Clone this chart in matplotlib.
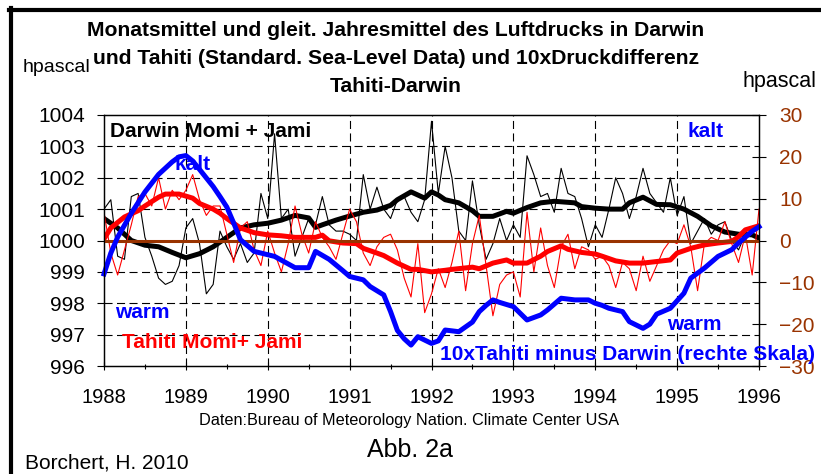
import numpy as np
import matplotlib.pyplot as plt
from matplotlib.lines import Line2D

plt.rcParams['font.family'] = ['Liberation Sans', 'DejaVu Sans']
plt.rcParams['lines.scale_dashes'] = False

# Monatsmittel (Jan 1988 .. Jan 1996), hPa
darwin_monthly = [1001.0, 1001.3, 999.5, 999.4, 1001.4, 1001.5, 1000.1, 999.5, 998.8, 998.6,
                  998.7, 999.2, 1000.4, 1000.7, 999.9, 998.3, 998.6, 1000.3, 999.8, 999.4,
                  999.9, 999.3, 999.6, 1001.5, 1000.7, 1003.4, 1000.7, 1001.0, 999.5, 1000.1,
                  1000.7, 1000.5, 1001.4, 1000.5, 1000.3, 1000.3, 1000.2, 1000.0, 1002.1, 1001.0,
                  1001.7, 1001.0, 1000.7, 1001.3, 1001.4, 1000.9, 1000.6, 1001.3, 1003.8, 1001.5,
                  1003.0, 1002.0, 1000.3, 1000.0, 1001.9, 1000.5, 999.4, 999.9, 1000.7, 1000.0,
                  1000.5, 1000.1, 1002.7, 1002.1, 1001.4, 1001.5, 1000.9, 1002.3, 1001.5, 1001.4,
                  1000.7, 999.8, 1000.5, 1000.1, 1001.0, 1002.0, 1001.5, 1000.7, 1001.4, 1002.3,
                  1001.5, 1001.2, 1000.9, 1002.0, 1000.8, 1001.4, 999.9, 1000.3, 1000.7, 1000.2,
                  1000.5, 1000.6, 1000.0, 999.7, 1000.2, 1000.2, 1000.1]
tahiti_monthly = [1000.9, 999.6, 998.9, 999.7, 1000.5, 1001.4, 1001.5, 1001.1, 1002.0, 1001.0,
                  1001.6, 1001.3, 1001.6, 1002.1, 1001.3, 1000.8, 1001.1, 1001.1, 1000.2, 999.3,
                  1000.4, 1000.6, 999.7, 999.2, 1000.3, 999.6, 999.0, 999.9, 1001.1, 1000.2,
                  999.6, 1000.6, 1000.1, 999.8, 999.4, 1000.2, 1001.0, 1000.6, 999.6, 999.2,
                  999.8, 1000.1, 1000.2, 999.7, 998.8, 998.2, 999.9, 997.7, 998.3, 999.1,
                  998.5, 999.3, 1000.3, 998.4, 999.9, 1000.8, 999.2, 997.6, 998.6, 998.9,
                  999.0, 998.2, 1000.9, 999.0, 1000.4, 999.2, 998.5, 999.8, 1000.2, 999.1,
                  999.8, 999.7, 999.4, 999.5, 999.2, 998.5, 999.3, 999.1, 998.4, 999.5,
                  998.7, 999.2, 999.7, 1000.0, 999.9, 1000.5, 999.8, 998.4, 999.9, 1000.1,
                  1000.0, 1000.6, 999.9, 999.3, 1000.2, 998.9, 1001.0]

# gleitende Jahresmittel (Monat seit Jan 1988)
darwin_mean_month = [0, 2, 4, 6, 8, 10, 12, 14, 16, 18, 20, 22, 24, 26, 28, 30, 31, 32, 34, 36,
                     38, 40, 42, 43, 45, 47, 48, 49, 50, 52, 54, 55, 57, 59, 60, 62, 64, 66, 69, 70,
                     72, 74, 76, 77, 79, 81, 83, 85, 87, 89, 91, 93, 95, 96]
darwin_mean = [1000.70, 1000.40, 1000.00, 999.85, 999.80, 999.62, 999.45, 999.58, 999.80, 1000.10,
               1000.40, 1000.50, 1000.55, 1000.65, 1000.80, 1000.72, 1000.42, 1000.50, 1000.65, 1000.78,
               1000.90, 1000.97, 1001.12, 1001.30, 1001.55, 1001.35, 1001.55, 1001.45, 1001.30, 1001.20,
               1000.95, 1000.77, 1000.77, 1000.93, 1000.87, 1001.05, 1001.20, 1001.25, 1001.20, 1001.08,
               1001.03, 1001.00, 1001.00, 1001.20, 1001.38, 1001.15, 1001.14, 1001.00, 1000.77, 1000.47,
               1000.27, 1000.20, 1000.18, 1000.08]
tahiti_mean_month = [0, 1, 3, 5, 6, 8, 9, 11, 13, 14, 16, 17, 18, 20, 22, 24, 26, 28, 31, 32,
                     33, 35, 37, 38, 40, 41, 43, 45, 46, 48, 50, 51, 54, 55, 57, 59, 60, 62, 64, 65,
                     67, 68, 70, 72, 73, 75, 77, 79, 81, 83, 84, 86, 88, 90, 92, 93, 94, 96]
tahiti_mean = [1000.05, 1000.40, 1000.75, 1000.95, 1001.10, 1001.38, 1001.48, 1001.48, 1001.35, 1001.18,
               1001.00, 1000.87, 1000.70, 1000.40, 1000.25, 1000.18, 1000.15, 1000.10, 1000.10, 1000.17,
               999.99, 999.92, 999.90, 999.75, 999.60, 999.52, 999.28, 999.08, 999.08, 999.00,
               999.05, 999.08, 999.15, 999.10, 999.28, 999.38, 999.28, 999.28, 999.50, 999.65,
               999.83, 999.72, 999.62, 999.57, 999.50, 999.35, 999.28, 999.28, 999.33, 999.38,
               999.60, 999.75, 999.86, 999.92, 999.97, 1000.12, 1000.34, 1000.47]

# 10 x (Tahiti - Darwin), rechte Skala
diff_month = [0, 1, 2, 4, 6, 8, 10, 11, 12, 13, 14, 16, 17, 18, 19, 20, 22, 25, 28, 30,
              31, 33, 35, 36, 38, 39, 41, 42, 43, 44, 45, 46, 48, 49, 50, 52, 54, 55, 56, 57,
              58, 60, 62, 64, 65, 67, 69, 71, 72, 73, 74, 76, 77, 79, 80, 81, 83, 85, 86, 88,
              90, 92, 93, 95, 96]
diff_10x = [-8.0, -3.0, 0.8, 6.5, 11.6, 15.8, 18.8, 20.0, 20.3, 19.0, 17.0, 12.9, 10.5, 8.0, 4.2,
            0.2, -2.6, -3.8, -6.5, -6.5, -2.6, -4.5, -7.2, -8.6, -9.4, -11.0, -13.0, -17.0, -21.5,
            -23.5, -25.0, -23.0, -24.6, -24.0, -21.4, -21.8, -19.5, -17.0, -15.5, -14.2, -14.8,
            -15.8, -19.0, -17.8, -16.6, -13.8, -14.2, -14.2, -15.0, -15.5, -16.2, -17.0, -19.4,
            -21.0, -20.0, -17.6, -16.2, -12.6, -9.0, -6.6, -3.8, -2.2, -0.6, 2.2, 3.3]

years = list(range(1988, 1997))
left_ticks = list(range(996, 1005))
right_ticks = list(range(-30, 31, 10))

BROWN = '#993300'
W, H = 821, 474


def to_year(months):
    return 1988 + np.asarray(months) / 12


fig = plt.figure(figsize=(W / 100, H / 100), dpi=100)
ax = fig.add_axes([104 / W, 1 - 366 / H, (759 - 104) / W, (366 - 115) / H])
ax2 = ax.twinx()

mo = to_year(np.arange(len(darwin_monthly)))
ax.plot(mo, darwin_monthly, color='black', lw=0.8)
ax.plot(to_year(darwin_mean_month), darwin_mean, color='black', lw=3.6, solid_joinstyle='round')
ax.plot(mo, tahiti_monthly, color='red', lw=0.8)
ax.plot(to_year(tahiti_mean_month), tahiti_mean, color='red', lw=3.6, solid_joinstyle='round')

ax2.axhline(0, color=BROWN, lw=2.2)
ax2.plot(to_year(diff_month), diff_10x, color='blue', lw=3.6, solid_joinstyle='round', clip_on=False)

ax.set_xlim(1988, 1996)
ax.set_ylim(996, 1004)
ax2.set_ylim(-30, 30)

ax.set_xticks(years)
ax.set_xticks(np.arange(1988.5, 1996, 1), minor=True)
ax.set_yticks(left_ticks)
ax2.set_yticks(right_ticks)

ax.tick_params(axis='x', which='major', direction='inout', length=5.8, width=0.8,
               pad=13, labelsize=14.5)
ax.tick_params(axis='x', which='minor', direction='inout', length=3.6, width=0.8)
ax.tick_params(axis='y', direction='out', length=5, width=0.8, pad=8.5, labelsize=15)
ax2.tick_params(axis='y', direction='inout', length=10, width=0.8, pad=9.5,
                labelsize=15, labelcolor=BROWN)

for y in left_ticks[1:-1]:
    ax.axhline(y, color='black', lw=0.8, dashes=(5.8, 3.2), zorder=0.5)
for x in years[1:-1]:
    ax.axvline(x, color='black', lw=0.8, dashes=(5.8, 3.2), zorder=0.5)

for a in (ax, ax2):
    for s in a.spines.values():
        s.set_linewidth(0.9)


def ftext(x, y, s, **kw):
    fig.text(x / W, 1 - y / H, s, **kw)


title = ["Monatsmittel und gleit. Jahresmittel des Luftdrucks in Darwin",
         "und Tahiti (Standard. Sea-Level Data) und 10xDruckdifferenz",
         "Tahiti-Darwin"]
for i, line in enumerate(title):
    ftext(396, 31 + 28 * i, line, ha='center', va='center', fontsize=15.2, fontweight='bold')

ftext(23, 68, "hpascal", ha='left', va='center', fontsize=14)
ftext(742, 82, "hpascal", ha='left', va='center', fontsize=15.5)

bold = dict(fontsize=15, fontweight='bold', va='center', ha='left')
ftext(110, 132, "Darwin Momi + Jami", color='black', **bold)
ftext(174, 164, "kalt", color='blue', **bold)
ftext(687, 131, "kalt", color='blue', **bold)
ftext(115, 313, "warm", color='blue', **bold)
ftext(667, 325, "warm", color='blue', **bold)
ftext(122, 343, "Tahiti Momi+ Jami", color='red', **bold)
# überdeckt wie im Original teilweise die Beschriftung -30
ftext(440, 355, "10xTahiti minus Darwin (rechte Skala)", color='blue', **bold)

ftext(409, 420, "Daten:Bureau of Meteorology Nation. Climate Center USA",
      ha='center', va='center', fontsize=11.7)
ftext(410, 450, "Abb. 2a", ha='center', va='center', fontsize=18)
ftext(25, 463, "Borchert, H. 2010", ha='left', va='center', fontsize=15)

fig.add_artist(Line2D([10.5 / W, 10.5 / W], [0, 1 - 8 / H], color='black', lw=3))
fig.add_artist(Line2D([8.5 / W, 1], [1 - 10 / H, 1 - 10 / H], color='black', lw=3))

fig.savefig('out.png', dpi=100)
